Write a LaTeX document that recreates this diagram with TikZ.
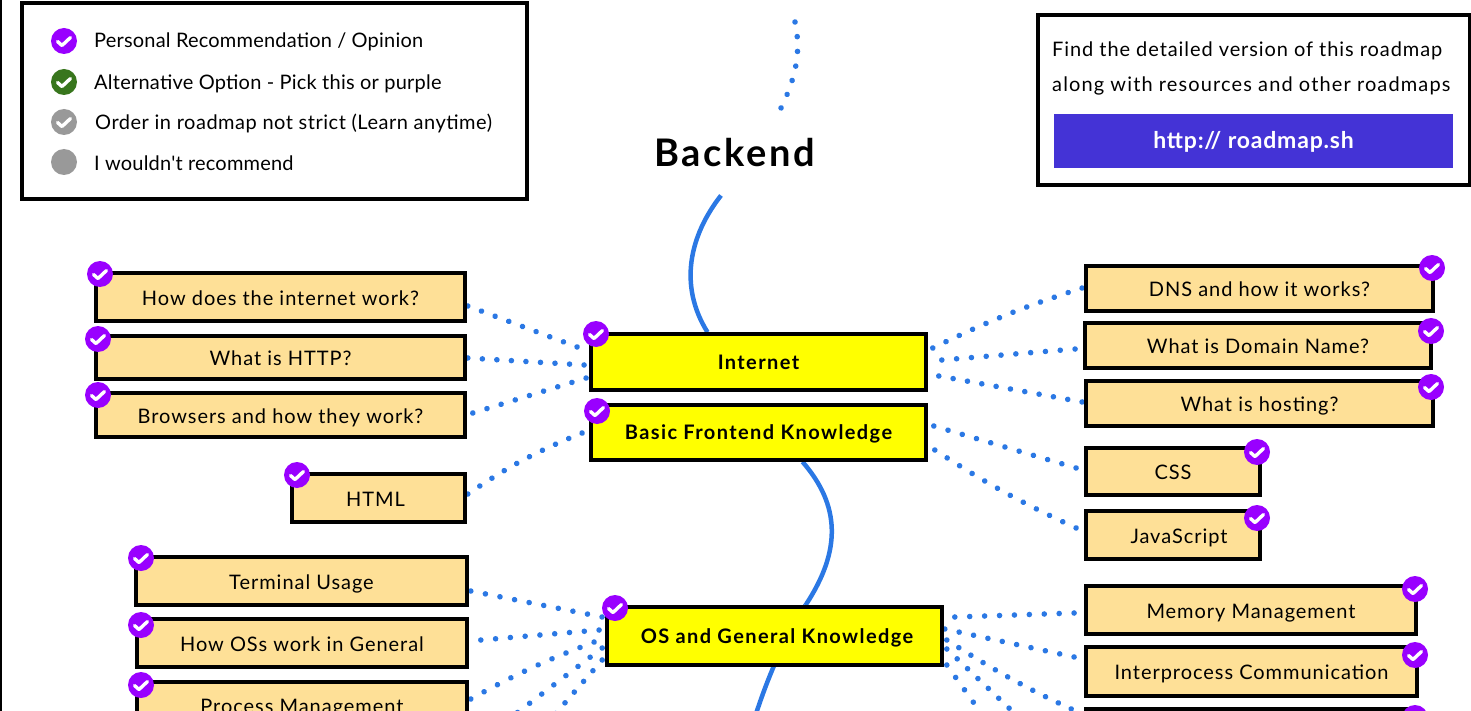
\documentclass[tikz,border=0pt]{standalone}
\usepackage{fontspec}
\setmainfont{Lato}
\newfontfamily\plainlato{Lato}
\usetikzlibrary{calc,backgrounds,decorations.markings}
\definecolor{boxtan}{HTML}{FEE097}
\definecolor{boxyel}{HTML}{FFFF00}
\definecolor{chkpurple}{HTML}{9900FF}
\definecolor{chkgreen}{HTML}{38761D}
\definecolor{chkgray}{HTML}{999999}
\definecolor{lineblue}{HTML}{2B78E4}
\definecolor{urlblue}{HTML}{4433D6}
\newcommand{\spc}[1]{\addfontfeatures{LetterSpace=#1}}
\tikzset{
  x=1pt,y=-1pt,
  topicbox/.style={draw=black,line width=3.6pt,fill=boxtan,inner sep=0pt,text height=16pt,text depth=0pt,font=\fontsize{20}{24}\selectfont\spc{4.8}},
  mainbox/.style={draw=black,line width=3.6pt,fill=boxyel,inner sep=0pt,text height=14pt,text depth=0pt,font=\fontsize{20}{24}\selectfont\bfseries\spc{7}},
  panel/.style={draw=black,line width=3.6pt,fill=white,inner sep=0pt},
  chk/.style={circle,fill=#1,minimum size=26pt,inner sep=0pt,
    path picture={\draw[white,line width=3.4pt,line cap=round,line join=round]
      ($(path picture bounding box.center)+(-6.5,0.5)$) -- ++(4.5,4) -- ++(8.5,-8);}},
  chk/.default=chkpurple,
  blank/.style={circle,fill=chkgray,minimum size=26pt,inner sep=0pt},
  legtext/.style={anchor=west,inner sep=0pt,font=\fontsize{20}{24}\selectfont},
  dotline/.style={decoration={markings,mark=between positions 0 and 1 step 0.999/#1 with {\fill[lineblue] (0,0) circle (2.8pt);}},postaction={decorate}},
  solidline/.style={draw=lineblue,line width=4.5pt},
}
\begin{document}
\begin{tikzpicture}
\useasboundingbox (0,0) rectangle (1471,711);
\clip (0,0) rectangle (1471,711);
% panels
\node[panel,minimum width=505pt,minimum height=196pt] (legend) at (274.5,101) {};
\node[panel,minimum width=432pt,minimum height=170pt] (site) at (1254,100) {};
\node[chk] (l1) at (64,41) {};
\node[chk=chkgreen] (l2) at (64,82) {};
\node[chk=chkgray] (l3) at (64,122) {};
\node[blank] (l4) at (64,162) {};
\node[legtext] (t1) at (94,42) {\spc{1}Personal Recommendation / Opinion};
\node[legtext] (t2) at (94,83.5) {\spc{1.2}Alternative Option - Pick this or purple};
\node[legtext] (t3) at (95,123.5) {\spc{2.6}Order in roadmap not strict (Learn anytime)};
\node[legtext] (t4) at (94,163) {\plainlato\spc{1}I wouldn't recommend};
\node[legtext] (f1) at (1052,51) {\spc{4.6}Find the detailed version of this roadmap};
\node[legtext] (f2) at (1052,86) {\spc{5.6}along with resources and other roadmaps};
\node[fill=urlblue,text=white,inner sep=0pt,minimum width=399pt,minimum height=54pt,text height=16pt,text depth=0pt,font=\fontsize{23}{27}\selectfont\bfseries\spc{3.5}] (url) at (1253.5,141) {http:// roadmap.sh};
\node[inner sep=0pt,font=\fontsize{38}{44}\selectfont\bfseries\spc{7}] (backend) at (735,153) {Backend};
% main boxes
\node[mainbox,minimum width=335pt,minimum height=56pt] (internet) at (758.5,362) {Internet};
\node[mainbox,minimum width=335pt,minimum height=55pt] (frontend) at (758.5,432.5) {Basic Frontend Knowledge};
\node[mainbox,minimum width=335pt,minimum height=58pt] (os) at (774.5,636) {\hspace{5pt}OS and General Knowledge};
% left boxes
\node[topicbox,minimum width=369pt,minimum height=48pt] (hiw) at (280.5,297) {How does the internet work?};
\node[topicbox,minimum width=369pt,minimum height=43pt] (http) at (280.5,357.5) {What is HTTP?};
\node[topicbox,minimum width=369pt,minimum height=44pt] (browsers) at (280.5,415) {Browsers and how they work?};
\node[topicbox,minimum width=173pt,minimum height=48pt] (html) at (378.5,498) {\hspace{-6pt}HTML};
\node[topicbox,minimum width=331pt,minimum height=48pt] (terminal) at (301.5,581) {Terminal Usage};
\node[topicbox,minimum width=330pt,minimum height=48pt] (howos) at (302,643) {How OSs work in General};
\node[topicbox,minimum width=330pt,minimum height=47pt] (process) at (302,705.5) {Process Management};
% right boxes
\node[topicbox,minimum width=347pt,minimum height=45pt] (dns) at (1259.5,288.5) {DNS and how it works?};
\node[topicbox,minimum width=346pt,minimum height=45pt] (domain) at (1258,345.5) {What is Domain Name?};
\node[topicbox,minimum width=347pt,minimum height=45pt] (hosting) at (1259.5,403.5) {What is hosting?};
\node[topicbox,minimum width=174pt,minimum height=47pt] (css) at (1173,471.5) {CSS};
\node[topicbox,minimum width=174pt,minimum height=48pt] (js) at (1173,535) {\hspace{12pt}JavaScript};
\node[topicbox,minimum width=330pt,minimum height=48pt] (memory) at (1251,610) {Memory Management};
\node[topicbox,minimum width=331pt,minimum height=49pt] (ipc) at (1251.5,671.5) {Interprocess Communication};
\node[topicbox,minimum width=331pt,minimum height=45pt] (third) at (1251.5,731.5) {};
% check marks
\node[chk] (c1) at (100,274) {};
\node[chk] (c2) at (98,339) {};
\node[chk] (c3) at (98,395) {};
\node[chk] (c4) at (297,475) {};
\node[chk] (c5) at (596,334) {};
\node[chk] (c6) at (597,411) {};
\node[chk] (c7) at (141,558) {};
\node[chk] (c8) at (141,625) {};
\node[chk] (c9) at (141,685) {};
\node[chk] (c10) at (615,608) {};
\node[chk] (c11) at (1432,268) {};
\node[chk] (c12) at (1431,331) {};
\node[chk] (c13) at (1431,387) {};
\node[chk] (c14) at (1257,452) {};
\node[chk] (c15) at (1257,518) {};
\node[chk] (c16) at (1415,589) {};
\node[chk] (c17) at (1415,655) {};
\node[chk] (c18) at (1415,718) {};
% free ends
\coordinate (topa) at (795,22);
\coordinate (topb) at (781,108);
\coordinate (down) at (748,740);
\coordinate (lfour) at (505,722);
\coordinate (lfive) at (537,735);
\coordinate (rfour) at (1030,728);
\coordinate (rfive) at (991,727);
\begin{scope}[on background layer]
\clip (0,0) rectangle (1471,711);
\draw[black,line width=2pt] (1,0) -- (1,711);
\path[dotline=6] (topa) .. controls (801,50) and (797,75) .. (topb);
\draw[solidline] ($(backend.south)+(-14,28)$) .. controls (690,235) and (678,285) .. ($(internet.north)+(-51,0)$);
\draw[solidline] ($(frontend.south)+(44,0)$) .. controls (840,505) and (842,550) .. ($(os.north)+(31,0)$);
\draw[solidline] ($(os.north)+(31,0)$) .. controls (790,630) and (768,670) .. (down);
% internet, left
\path[dotline=8] ($(hiw.east)+(1,9)$) -- ($(internet.west)+(-12,-15)$);
\path[dotline=8] ($(http.east)+(1,0.5)$) -- ($(internet.west)+(-5,3)$);
\path[dotline=8] ($(browsers.east)+(6,-2)$) -- ($(internet.west)+(-3,16)$);
\path[dotline=9] ($(html.east)+(1,-4)$) to[bend left=6] ($(frontend.west)+(-7,0.5)$);
% internet, right
\path[dotline=11] ($(internet.east)+(5,-14)$) to[bend left=4] ($(dns.west)+(-2,-0.5)$);
\path[dotline=9] ($(internet.east)+(14,-2)$) -- ($(domain.west)+(-8,3.5)$);
\path[dotline=10] ($(internet.east)+(11,14)$) -- ($(hosting.west)+(-2,-1.5)$);
\path[dotline=10] ($(frontend.east)+(6,-6.5)$) -- ($(css.west)+(-8,-3.5)$);
\path[dotline=11] ($(frontend.east)+(7,17.5)$) to[bend right=4] ($(js.west)+(-8,-7)$);
% os, left
\path[dotline=9] ($(terminal.east)+(2,10)$) -- ($(os.west)+(-3,-19)$);
\path[dotline=8] ($(howos.east)+(12,-3)$) -- ($(os.west)+(-6,-6)$);
\path[dotline=9] ($(process.east)+(2,-6.5)$) to[bend left=4] ($(os.west)+(-11,6)$);
\path[dotline=8] ($(os.west)+(-3,12)$) -- (lfour);
\path[dotline=7] ($(os.west)+(-3,24)$) -- (lfive);
% os, right
\path[dotline=8] ($(os.east)+(11,-19)$) -- ($(memory.west)+(-10,3)$);
\path[dotline=9] ($(os.east)+(1,-7)$) -- ($(ipc.west)+(-10,-14.5)$);
\path[dotline=11] ($(os.east)+(3,4)$) to[bend right=4] ($(third.west)+(0,-16.5)$);
\path[dotline=8] ($(os.east)+(3,13)$) -- (rfour);
\path[dotline=5] ($(os.east)+(3,29)$) -- (rfive);
\end{scope}
\end{tikzpicture}
\end{document}
